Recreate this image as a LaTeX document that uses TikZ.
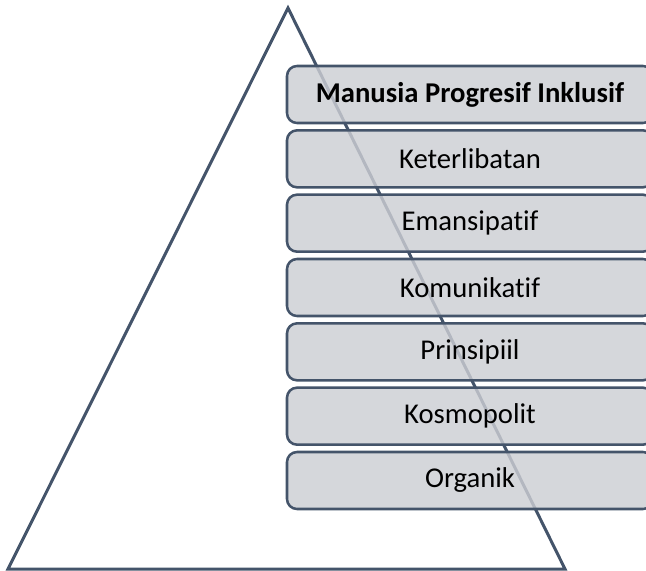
\documentclass[tikz,border=0pt]{standalone}
\usepackage{fontspec}
\setmainfont[Ligatures=NoCommon]{Carlito}
\usepackage{xcolor}
\usetikzlibrary{positioning}

\definecolor{slate}{RGB}{68,84,106}
\definecolor{boxgray}{RGB}{204,206,211}

\tikzset{
  level/.style={draw=slate,line width=1.9pt,rounded corners=7.5pt,
    fill=boxgray,fill opacity=0.82,text opacity=1,
    minimum width=274.5pt,minimum height=42.75pt,inner sep=0pt,
    font=\fontsize{21.5}{25}\selectfont},
}

\begin{document}
\begin{tikzpicture}[x=0.75pt,y=-0.75pt]
  \useasboundingbox (0,0) rectangle (646,571);
  \clip (0,0) rectangle (646,571);
  % pyramid outline
  \coordinate (apex) at (288,8);
  \coordinate (baseL) at (8,569);
  \coordinate (baseR) at (565,569);
  \draw[slate,line width=2.25pt,line join=miter] (baseL) -- (apex) -- (baseR) -- cycle;
  % levels, top to bottom
  \node[level] (top) at (470,94.5) {\textbf{Manusia Progresif Inklusif}};
  \node[level,below=3.6pt of top] (keter) {Keterlibatan};
  \node[level,below=3.6pt of keter] (emans) {Emansipatif};
  \node[level,below=3.6pt of emans] (komun) {Komunikatif};
  \node[level,below=3.6pt of komun] (prins) {Prinsipiil};
  \node[level,below=3.6pt of prins] (kosmo) {Kosmopolit};
  \node[level,below=3.6pt of kosmo] (organ) {Organik};
\end{tikzpicture}
\end{document}
